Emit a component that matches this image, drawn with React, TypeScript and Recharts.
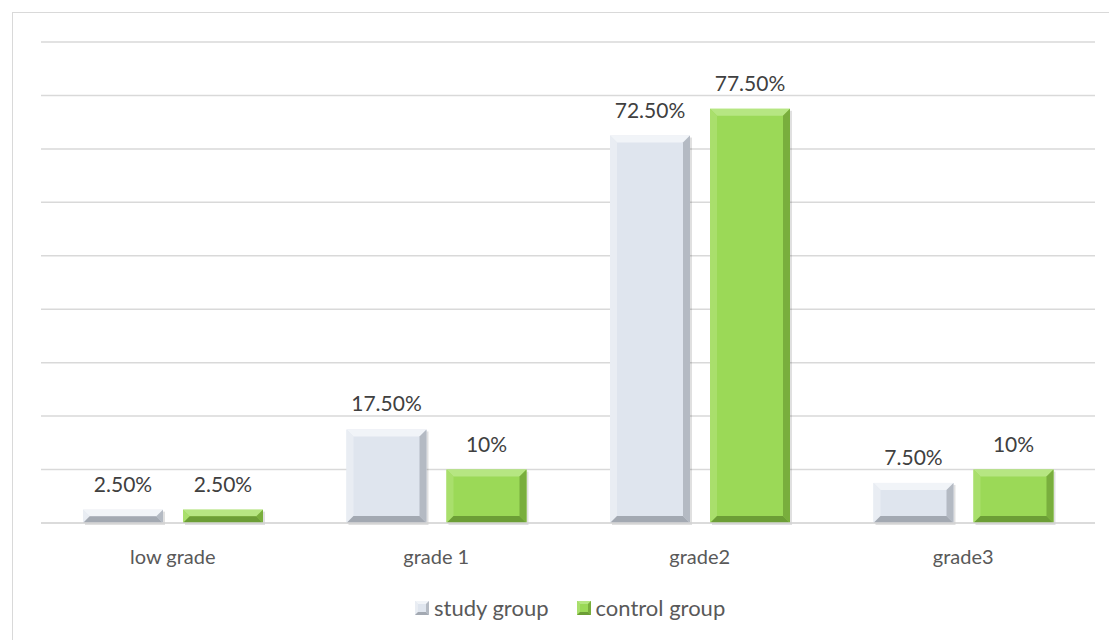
import { BarChart, Bar, XAxis, YAxis, CartesianGrid, LabelList } from 'recharts';

const categories = ['low grade', 'grade 1', 'grade2', 'grade3'];
const studyGroup = [2.5, 17.5, 72.5, 7.5];
const controlGroup = [2.5, 10, 77.5, 10];
const yTicks = [0, 10, 20, 30, 40, 50, 60, 70, 80, 90];

const data = categories.map((name, i) => ({
  name,
  study: studyGroup[i],
  control: controlGroup[i],
}));

const FONT = 'Lato, "Open Sans", sans-serif';

const studyColors = { face: '#dfe5ee', top: '#f1f4f8', left: '#e9edf3', right: '#b4bac3', bottom: '#a3a9b2' };
const controlColors = { face: '#9bd957', top: '#b6e682', left: '#a9df6c', right: '#79ae3d', bottom: '#6c9e36' };

type Colors = typeof studyColors;

const bevel = (c: Colors) => (props: any) => {
  const { x, y, width: w, height: h } = props;
  if (!h || h <= 0) return <g />;
  const b = Math.min(7, h / 2, w / 2);
  return (
    <g>
      <rect x={x + 2} y={y + 2} width={w} height={h} fill="rgba(0,0,0,0.12)" />
      <rect x={x} y={y} width={w} height={h} fill={c.face} />
      <polygon points={`${x},${y} ${x + w},${y} ${x + w - b},${y + b} ${x + b},${y + b}`} fill={c.top} />
      <polygon points={`${x},${y} ${x + b},${y + b} ${x + b},${y + h - b} ${x},${y + h}`} fill={c.left} />
      <polygon points={`${x + w},${y} ${x + w},${y + h} ${x + w - b},${y + h - b} ${x + w - b},${y + b}`} fill={c.right} />
      <polygon points={`${x},${y + h} ${x + w},${y + h} ${x + w - b},${y + h - b} ${x + b},${y + h - b}`} fill={c.bottom} />
    </g>
  );
};

const fmt = (v: any) => {
  const n = Number(v);
  return n % 1 === 0 ? `${n}%` : `${n.toFixed(2)}%`;
};

function LegendIcon({ c }: { c: Colors }) {
  const s = 14;
  const b = 3;
  return (
    <svg width={s} height={s} style={{ display: 'block' }}>
      <rect x={0} y={0} width={s} height={s} fill={c.face} />
      <polygon points={`0,0 ${s},0 ${s - b},${b} ${b},${b}`} fill={c.top} />
      <polygon points={`0,0 ${b},${b} ${b},${s - b} 0,${s}`} fill={c.left} />
      <polygon points={`${s},0 ${s},${s} ${s - b},${s - b} ${s - b},${b}`} fill={c.right} />
      <polygon points={`0,${s} ${s},${s} ${s - b},${s - b} ${b},${s - b}`} fill={c.bottom} />
    </svg>
  );
}

export default function App() {
  return (
    <div style={{ position: 'absolute', left: 0, top: 0, width: 1109, height: 640, overflow: 'hidden', background: '#fff', fontFamily: FONT }}>
      <div style={{ position: 'absolute', left: 12, top: 12, width: 1110, height: 640, border: '1px solid #d9d9d9' }} />
      <BarChart
        width={1109}
        height={640}
        data={data}
        margin={{ top: 42, right: 14, bottom: 87, left: 41 }}
        barCategoryGap={42}
        barGap={20}
      >
        <CartesianGrid vertical={false} stroke="#d9d9d9" strokeWidth={1.5} />
        <YAxis hide domain={[0, 90]} ticks={yTicks} />
        <XAxis
          dataKey="name"
          axisLine={{ stroke: '#d9d9d9', strokeWidth: 1.5 }}
          tickLine={false}
          tickMargin={21}
          tick={{ fill: '#595959', fontSize: 20, fontFamily: FONT }}
        />
        <Bar dataKey="study" isAnimationActive={false} shape={bevel(studyColors)}>
          <LabelList dataKey="study" position="top" offset={18} formatter={fmt} fill="#404040" fontSize={21} fontFamily={FONT} />
        </Bar>
        <Bar dataKey="control" isAnimationActive={false} shape={bevel(controlColors)}>
          <LabelList dataKey="control" position="top" offset={18} formatter={fmt} fill="#404040" fontSize={21} fontFamily={FONT} />
        </Bar>
      </BarChart>
      <div style={{ position: 'absolute', left: 415, top: 594, display: 'flex', alignItems: 'center', color: '#595959', fontSize: 22 }}>
        <LegendIcon c={studyColors} />
        <span style={{ marginLeft: 5 }}>study group</span>
        <span style={{ width: 28 }} />
        <LegendIcon c={controlColors} />
        <span style={{ marginLeft: 5 }}>control group</span>
      </div>
    </div>
  );
}
